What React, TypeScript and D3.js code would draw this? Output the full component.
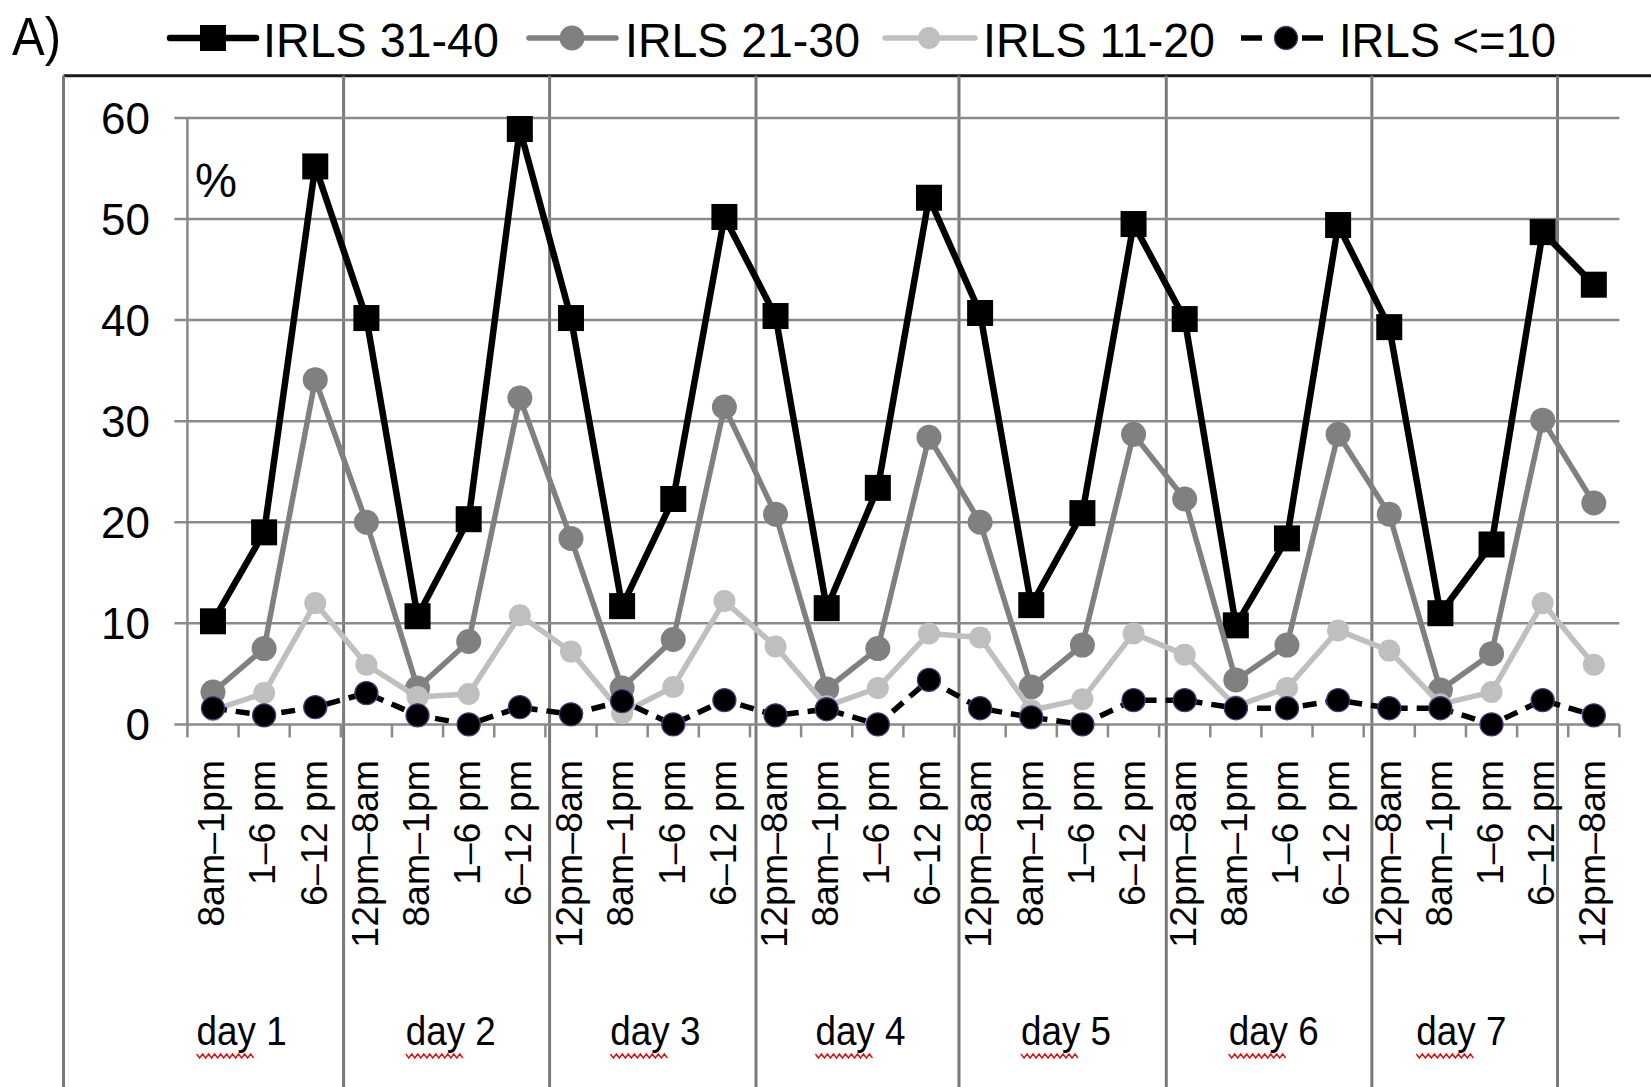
import React from "react";
import * as d3 from "d3";

// ---------- data ----------
const categories = [
  "8am–1pm", "1–6 pm", "6–12 pm",
  "12pm–8am", "8am–1pm", "1–6 pm", "6–12 pm",
  "12pm–8am", "8am–1pm", "1–6 pm", "6–12 pm",
  "12pm–8am", "8am–1pm", "1–6 pm", "6–12 pm",
  "12pm–8am", "8am–1pm", "1–6 pm", "6–12 pm",
  "12pm–8am", "8am–1pm", "1–6 pm", "6–12 pm",
  "12pm–8am", "8am–1pm", "1–6 pm", "6–12 pm",
  "12pm–8am",
];
const days = ["day 1", "day 2", "day 3", "day 4", "day 5", "day 6", "day 7"];
const yTicks = [0, 10, 20, 30, 40, 50, 60];

const irls31_40 = [10.2, 19.0, 55.2, 40.2, 10.7, 20.3, 58.9, 40.2, 11.7, 22.3, 50.2, 40.4, 11.5, 23.4, 52.1, 40.7, 11.8, 20.9, 49.5, 40.1, 9.8, 18.4, 49.4, 39.3, 11.0, 17.8, 48.7, 43.5];
const irls21_30 = [3.2, 7.5, 34.1, 20.0, 3.6, 8.2, 32.3, 18.4, 3.6, 8.4, 31.4, 20.8, 3.5, 7.5, 28.4, 20.0, 3.7, 7.85, 28.7, 22.3, 4.4, 7.85, 28.7, 20.8, 3.4, 7.0, 30.1, 21.9];
const irls11_20 = [1.4, 3.1, 12.0, 5.9, 2.7, 3.0, 10.8, 7.2, 1.1, 3.7, 12.2, 7.7, 1.8, 3.6, 9.0, 8.6, 1.4, 2.5, 9.0, 6.9, 1.8, 3.6, 9.3, 7.3, 2.0, 3.2, 12.0, 5.9];
const irlsLe10 = [1.6, 0.9, 1.7, 3.1, 0.9, 0.0, 1.7, 1.0, 2.3, 0.0, 2.4, 0.9, 1.5, 0.0, 4.4, 1.6, 0.7, 0.0, 2.4, 2.4, 1.6, 1.6, 2.4, 1.6, 1.6, 0.0, 2.4, 0.9];

const seriesNames = ["IRLS 31-40", "IRLS 21-30", "IRLS 11-20", "IRLS <=10"];

// ---------- layout ----------
const W = 1651;
const H = 1087;
const plotLeft = 187.4;
const plotRight = 1619.4;
const yZero = 724.4;
const ySixty = 117.9;
const frameTop = 75.8;
const frameLeft = 63.5;
const separatorUnits = [3.054, 7.082, 11.118, 15.087, 19.14, 23.16, 26.79];
const dayLabelUnits = [1.06, 5.15, 9.15, 13.16, 17.18, 21.24, 24.91];
const FONT = "'Liberation Sans', Arial, sans-serif";
const GRID = "#8a8a8a";

const styles = [
  { color: "#000000", width: 6.5, marker: "square", size: 26, dash: null as string | null, stroke: null as string | null },
  { color: "#808080", width: 5.5, marker: "circle", size: 12.5, dash: null, stroke: null },
  { color: "#bfbfbf", width: 5.5, marker: "circle", size: 11, dash: null, stroke: null },
  { color: "#000000", width: 5.5, marker: "circle", size: 11.5, dash: "14 9", stroke: "#52347a" },
];

const legendPos = [
  { x1: 170, x2: 256, mx: 213, tx: 263, tl: 236 },
  { x1: 529, x2: 616, mx: 572, tx: 625, tl: 235 },
  { x1: 885, x2: 975, mx: 929, tx: 983, tl: 232 },
  { x1: 1241, x2: 1323, mx: 1286, tx: 1339, tl: 217 },
];

export default function App() {
  const x = d3.scaleBand<number>().domain(d3.range(categories.length)).range([plotLeft, plotRight]).padding(0);
  const bw = x.bandwidth();
  const cx = (i: number) => (x(i) as number) + bw / 2;
  const unit = (u: number) => plotLeft + u * bw;
  const y = d3.scaleLinear().domain([0, 60]).range([yZero, ySixty]);
  const allSeries = [irls31_40, irls21_30, irls11_20, irlsLe10];
  const line = d3.line<number>().x((_, i) => cx(i)).y((d) => y(d));

  const wavy = (x0: number, x1: number, yy: number) => {
    const pts: [number, number][] = [];
    let k = 0;
    for (let xx = x0; xx <= x1; xx += 3, k++) pts.push([xx, yy + (k % 2 === 0 ? -2 : 2)]);
    return d3.line()(pts) as string;
  };

  return (
    <svg width={W} height={H} style={{ position: "absolute", left: 0, top: 0, background: "#fff" }} fontFamily={FONT}>
      <rect x={0} y={0} width={W} height={H} fill="#fff" />
      {/* frame lines */}
      <line x1={frameLeft} x2={W} y1={frameTop} y2={frameTop} stroke="#1a1a1a" strokeWidth={3} />
      <line x1={frameLeft} x2={frameLeft} y1={frameTop} y2={H} stroke="#7a7a7a" strokeWidth={3} />
      {separatorUnits.map((u, i) => (
        <line key={"sep" + i} x1={unit(u)} x2={unit(u)} y1={frameTop} y2={H} stroke="#7a7a7a" strokeWidth={3} />
      ))}

      {/* gridlines and y ticks */}
      {yTicks.map((t) => (
        <g key={"yt" + t}>
          <line x1={plotLeft - 13} x2={plotRight} y1={y(t)} y2={y(t)} stroke={GRID} strokeWidth={2.5} />
          <text x={150} y={y(t)} dy="0.36em" textAnchor="end" fontSize={44} fill="#000">{t}</text>
        </g>
      ))}
      <line x1={plotLeft} x2={plotLeft} y1={y(60)} y2={yZero} stroke={GRID} strokeWidth={2.5} />
      {d3.range(categories.length + 1).map((k) => (
        <line key={"xt" + k} x1={unit(k)} x2={unit(k)} y1={yZero} y2={yZero + 13} stroke={GRID} strokeWidth={2.5} />
      ))}
      <text x={195} y={197} fontSize={48} textLength={42} lengthAdjust="spacingAndGlyphs">%</text>

      {/* x labels */}
      {categories.map((c, i) => (
        <text key={"xl" + i} transform={`translate(${cx(i)},760) rotate(-90)`} textAnchor="end" dy="0.3em" fontSize={37.5} fill="#000">{c}</text>
      ))}

      {/* day labels */}
      {days.map((d, i) => {
        const xc = unit(dayLabelUnits[i]);
        const tl = 90;
        return (
          <g key={"day" + i}>
            <text x={xc} y={1045} textAnchor="middle" fontSize={40} textLength={tl} lengthAdjust="spacingAndGlyphs">{d}</text>
            <path d={wavy(xc - tl / 2, xc - tl / 2 + tl * 0.66, 1056)} fill="none" stroke="#e01010" strokeWidth={1.4} />
          </g>
        );
      })}

      {/* series */}
      {allSeries.map((s, si) => {
        const st = styles[si];
        return (
          <g key={"s" + si}>
            <path d={line(s) as string} fill="none" stroke={st.color} strokeWidth={st.width} strokeDasharray={st.dash ?? undefined} strokeLinejoin="round" />
            {s.map((v, i) =>
              st.marker === "square" ? (
                <rect key={i} x={cx(i) - st.size / 2} y={y(v) - st.size / 2} width={st.size} height={st.size} fill={st.color} />
              ) : (
                <circle key={i} cx={cx(i)} cy={y(v)} r={st.size} fill={st.color} stroke={st.stroke ?? "none"} strokeWidth={1.3} />
              )
            )}
          </g>
        );
      })}

      {/* title mark */}
      <text x={12} y={55} fontSize={54} textLength={49} lengthAdjust="spacingAndGlyphs">A)</text>

      {/* legend */}
      {seriesNames.map((n, i) => {
        const st = styles[i];
        const p = legendPos[i];
        const ly = 38;
        return (
          <g key={"lg" + i}>
            {st.dash ? (
              <line x1={p.x1} x2={p.x2} y1={ly} y2={ly} stroke={st.color} strokeWidth={st.width} strokeDasharray="21 40" />
            ) : (
              <line x1={p.x1} x2={p.x2} y1={ly} y2={ly} stroke={st.color} strokeWidth={st.width} strokeLinecap="round" />
            )}
            {st.marker === "square" ? (
              <rect x={p.mx - st.size / 2} y={ly - st.size / 2} width={st.size} height={st.size} fill={st.color} />
            ) : (
              <circle cx={p.mx} cy={ly} r={st.size} fill={st.color} stroke={st.stroke ?? "none"} strokeWidth={1.3} />
            )}
            <text x={p.tx} y={57} fontSize={49} textLength={p.tl} lengthAdjust="spacingAndGlyphs" fill="#000">{n}</text>
          </g>
        );
      })}
    </svg>
  );
}
